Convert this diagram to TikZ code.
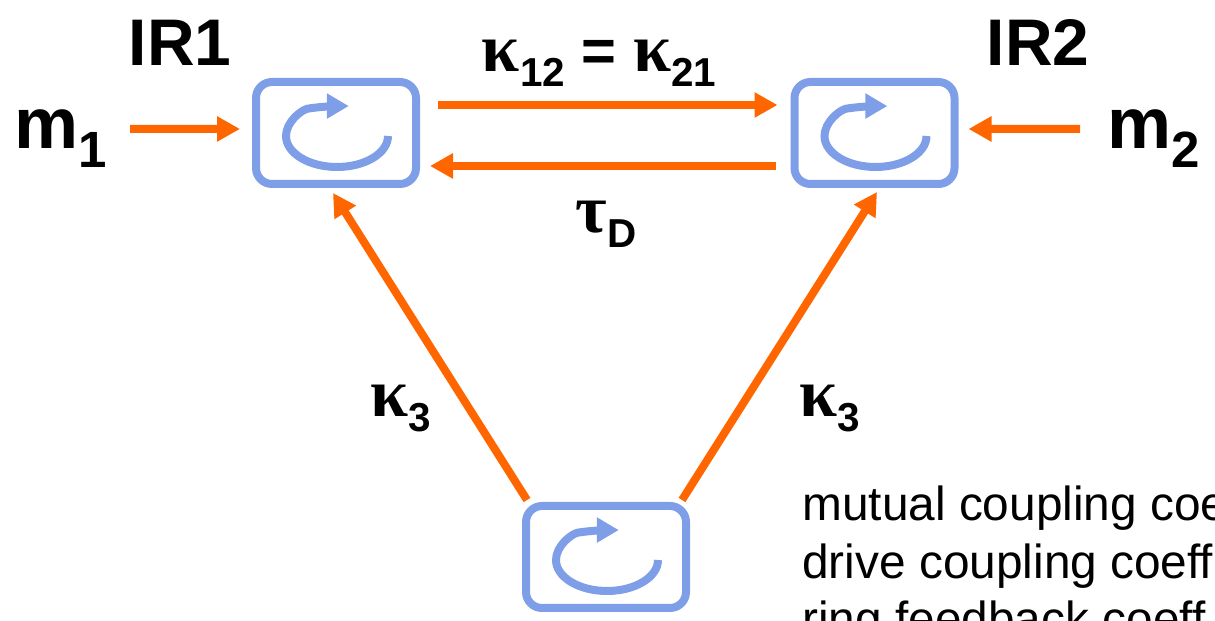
\documentclass[tikz,border=0pt]{standalone}
\usepackage{fontspec}
\setmainfont{Liberation Sans}
\newfontfamily\greekfont{Liberation Serif}
\usetikzlibrary{arrows.meta,positioning,calc}
\definecolor{flowline}{RGB}{255,102,0}
\definecolor{ringline}{RGB}{127,158,232}
\newcommand{\gk}[1]{{\greekfont\bfseries\fontsize{39}{39}\selectfont #1}}
\newcommand{\sbs}[1]{\raisebox{-8.5pt}{\fontsize{23}{23}\selectfont #1}}
\newcommand{\sbm}[1]{\raisebox{-10.8pt}{\fontsize{29}{29}\selectfont #1}}
\tikzset{
  ringbox/.style ={draw=ringline, line width=0.16cm, rounded corners=0.32cm, minimum width=3.2cm, minimum height=2.04cm, inner sep=0pt,
                   path picture={\draw[ringline, line width=0.16cm, -{Triangle[length=0.44cm, width=0.48cm]}]
                     ([shift={(1.04,-0.06)}]path picture bounding box.center) arc[start angle=0, end angle=-255, x radius=1.02cm, y radius=0.62cm] -- ++(0.5,0);}},
  flow/.style    ={-{Triangle[length=0.46cm, width=0.48cm]}, draw=flowline, line width=0.16cm},
  big/.style     ={font=\fontsize{37.5}{37.5}\selectfont\bfseries, inner sep=0pt},
  mass/.style    ={font=\fontsize{41}{41}\selectfont\bfseries, inner sep=0pt},
  lbl/.style     ={font=\fontsize{34}{34}\selectfont\bfseries, inner sep=0pt, anchor=base},
  note/.style    ={font=\fontsize{27.2}{33}\selectfont, inner sep=0pt, anchor=base west}
}
\begin{document}
\begin{tikzpicture}
  \useasboundingbox (0,0) rectangle (24.3,12.42);
  \node[ringbox] (ir1) at (6.72,9.76) {};
  \node[ringbox] (ir2) at (17.49,9.76) {};
  \node[ringbox] (ir3) at (12.12,1.28) {};
  \node[big] (t1) at (3.6,11.56) {IR1};
  \node[big] (t2) at (20.76,11.56) {IR2};
  \node[mass, anchor=base east] (m1) at (2.14,9.44) {m\sbm{1}};
  \node[mass, anchor=base west] (m2) at (22.14,9.44) {m\sbm{2}};
  \node[lbl] (k12) at (11.98,10.98) {\gk{κ}\sbs{12} = \gk{κ}\sbs{21}};
  \node[lbl] (tau) at (12.12,7.76) {\gk{τ}\sbs{D}};
  \node[lbl] (k3a) at (8.02,4.08) {\gk{κ}\sbs{3}};
  \node[lbl] (k3b) at (16.6,4.08) {\gk{κ}\sbs{3}};
  \node[note] (n1) at (16.04,2.0) {mutual coupling coeff};
  \node[note] (n2) at (16.04,0.85) {drive coupling coeff};
  \node[note] (n3) at (16.04,-0.3) {ring feedback coeff};
  \draw[flow] ([shift={(0.46,0.4)}]m1.base east) -- ([shift={(-0.24,0.08)}]ir1.west);
  \draw[flow] ([shift={(-0.54,0.4)}]m2.base west) -- ([shift={(0.2,0.08)}]ir2.east);
  \draw[flow] ([shift={(0.36,0.56)}]ir1.east) -- ([shift={(-0.26,0.56)}]ir2.west);
  \draw[flow] ([shift={(-0.3,-0.66)}]ir2.west) -- ([shift={(0.2,-0.66)}]ir1.east);
  \draw[flow] ([shift={(0.1,0.04)}]ir3.north west) -- ([shift={(-0.06,-0.1)}]ir1.south);
  \draw[flow] ([shift={(-0.16,0.04)}]ir3.north east) -- ([shift={(0.05,-0.08)}]ir2.south);
\end{tikzpicture}
\end{document}
